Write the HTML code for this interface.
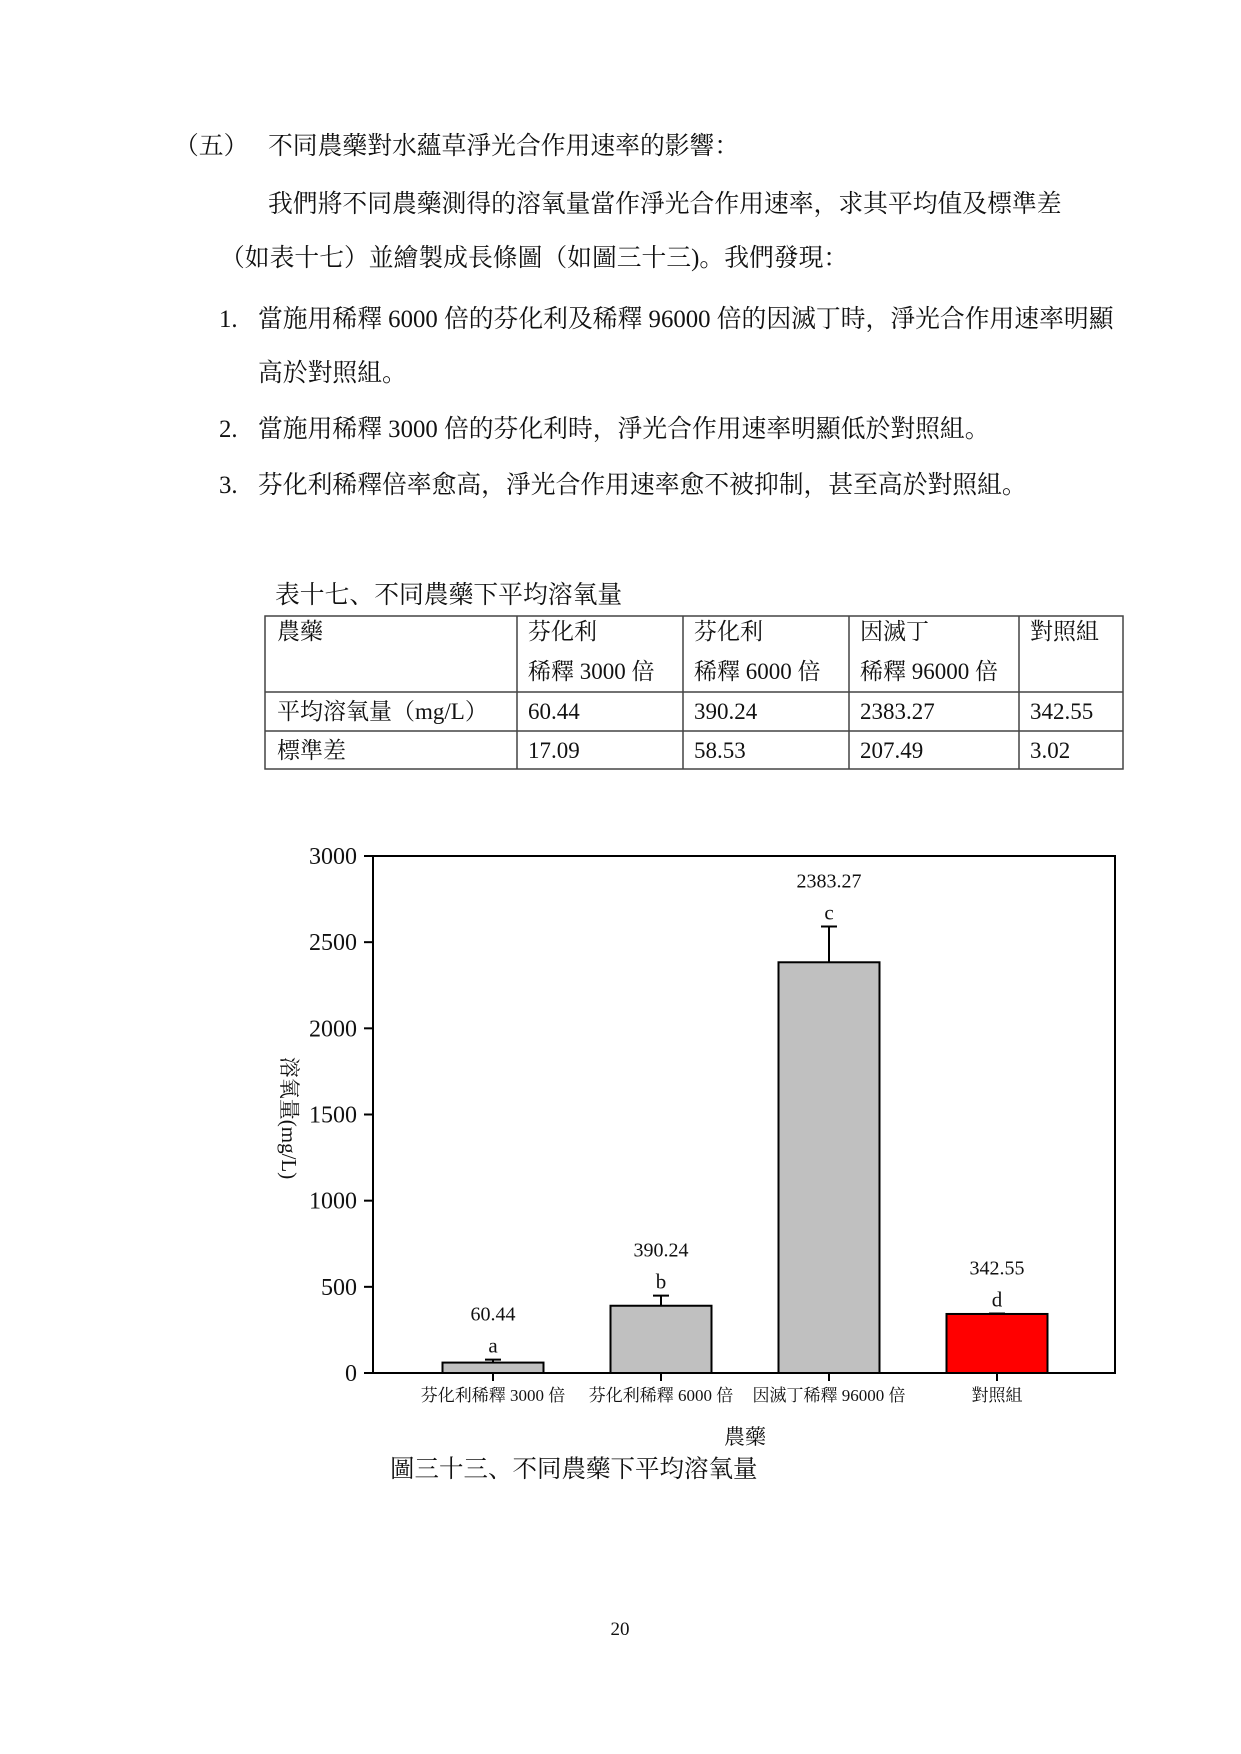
<!DOCTYPE html>
<html><head><meta charset="utf-8">
<style>
body{margin:0;background:#fff;}
#page{position:relative;width:1241px;height:1754px;overflow:hidden;background:#fff;font-family:"Liberation Serif","Noto Serif CJK SC","Noto Sans CJK TC",serif;color:#111;}
.t{position:absolute;font-size:24.8px;white-space:nowrap;line-height:28px;}
.cell{position:absolute;font-size:23px;line-height:28px;white-space:nowrap;}
.hd{line-height:40px;top:612px !important;}
svg text{font-family:"Liberation Serif","Noto Serif CJK SC","Noto Sans CJK TC",serif;fill:#111;}
</style></head>
<body>
<div id="page">
<div class="t" style="left:174px;top:133px">（五）</div>
<div class="t" style="left:268px;top:133px">不同農藥對水蘊草淨光合作用速率的影響：</div>
<div class="t" style="left:268px;top:191px">我們將不同農藥測得的溶氧量當作淨光合作用速率，求其平均值及標準差</div>
<div class="t" style="left:220px;top:245px">（如表十七）並繪製成長條圖（如圖三十三)。我們發現：</div>
<div class="t" style="left:219px;top:306px">1.</div>
<div class="t" style="left:258px;top:306px">當施用稀釋 6000 倍的芬化利及稀釋 96000 倍的因滅丁時，淨光合作用速率明顯</div>
<div class="t" style="left:258px;top:360px">高於對照組。</div>
<div class="t" style="left:219px;top:416px">2.</div>
<div class="t" style="left:258px;top:416px">當施用稀釋 3000 倍的芬化利時，淨光合作用速率明顯低於對照組。</div>
<div class="t" style="left:219px;top:472px">3.</div>
<div class="t" style="left:258px;top:472px">芬化利稀釋倍率愈高，淨光合作用速率愈不被抑制，甚至高於對照組。</div>
<div class="t" style="left:275px;top:582px">表十七、不同農藥下平均溶氧量</div>

<svg style="position:absolute;left:0;top:0" width="1241" height="1754">
<g stroke="#444" stroke-width="1.5" fill="none">
<rect x="265" y="616" width="858" height="153"/>
<line x1="265" y1="692" x2="1123" y2="692"/>
<line x1="265" y1="731" x2="1123" y2="731"/>
<line x1="517" y1="616" x2="517" y2="769"/>
<line x1="683" y1="616" x2="683" y2="769"/>
<line x1="849" y1="616" x2="849" y2="769"/>
<line x1="1019" y1="616" x2="1019" y2="769"/>
</g></svg>
<div class="cell hd" style="left:277px;top:612px">農藥</div>
<div class="cell hd" style="left:528px;top:612px">芬化利<br>稀釋 3000 倍</div>
<div class="cell hd" style="left:694px;top:612px">芬化利<br>稀釋 6000 倍</div>
<div class="cell hd" style="left:860px;top:612px">因滅丁<br>稀釋 96000 倍</div>
<div class="cell hd" style="left:1030px;top:612px">對照組</div>
<div class="cell" style="left:277px;top:698px">平均溶氧量（mg/L）</div>
<div class="cell" style="left:528px;top:698px">60.44</div>
<div class="cell" style="left:694px;top:698px">390.24</div>
<div class="cell" style="left:860px;top:698px">2383.27</div>
<div class="cell" style="left:1030px;top:698px">342.55</div>
<div class="cell" style="left:277px;top:737px">標準差</div>
<div class="cell" style="left:528px;top:737px">17.09</div>
<div class="cell" style="left:694px;top:737px">58.53</div>
<div class="cell" style="left:860px;top:737px">207.49</div>
<div class="cell" style="left:1030px;top:737px">3.02</div>

<svg id="chart" style="position:absolute;left:0;top:0" width="1241" height="1754"></svg>

<div class="t" style="left:390px;top:1456px;font-size:24.5px">圖三十三、不同農藥下平均溶氧量</div>
<div class="t" style="left:600px;top:1616px;font-size:19px;width:40px;text-align:center">20</div>
</div>
<script>
const categories=["芬化利稀釋 3000 倍","芬化利稀釋 6000 倍","因滅丁稀釋 96000 倍","對照組"];
const means=[60.44,390.24,2383.27,342.55];
const sds=[17.09,58.53,207.49,3.02];
const letters=["a","b","c","d"];
const valueLabels=["60.44","390.24","2383.27","342.55"];
const yTicks=[0,500,1000,1500,2000,2500,3000];
const fills=["#c0c0c0","#c0c0c0","#c0c0c0","#ff0000"];

const NS="http://www.w3.org/2000/svg";
const svg=document.getElementById('chart');
const L=373,R=1115,T=856,B=1373,YMAX=3000;
function y(v){return B-v/YMAX*(B-T);}
const step=168, x0=493, bw=101;
function x(i){return x0+i*step;}
function mk(tag,attrs,parent){const e=document.createElementNS(NS,tag);for(const k in attrs)e.setAttribute(k,attrs[k]);(parent||svg).appendChild(e);return e;}

yTicks.forEach(function(t){
  const ln=mk('line',{x1:L-9,x2:L,y1:y(t),y2:y(t),stroke:'#000','stroke-width':2});
  
  
  const tx=mk('text',{x:L-16,y:y(t)+8,'text-anchor':'end','font-size':24});
  tx.textContent=String(t);
  
  
});
categories.forEach(function(c,i){
  const cx=x(i);
  const bar=mk('rect',{x:cx-bw/2,y:y(means[i]),width:bw,height:B-y(means[i]),fill:fills[i],stroke:'#000','stroke-width':2});
  
  
  const top=y(means[i]+sds[i]);
  const eb=mk('path',{d:'M'+cx+' '+y(means[i])+'V'+top+'M'+(cx-8)+' '+top+'H'+(cx+8),stroke:'#000','stroke-width':2,fill:'none'});
  
  
  const lt=mk('text',{x:cx,y:top-7,'text-anchor':'middle','font-size':21});
  lt.textContent=letters[i];
  
  
  const vt=mk('text',{x:cx,y:top-39,'text-anchor':'middle','font-size':20});
  vt.textContent=valueLabels[i];
  
  
  const tk=mk('line',{x1:cx,x2:cx,y1:B,y2:B+8,stroke:'#000','stroke-width':2});
  
  
  const xl=mk('text',{x:cx,y:B+28,'text-anchor':'middle','font-size':17});
  xl.textContent=c;
  
  
});
const frame=mk('rect',{x:L,y:T,width:R-L,height:B-T,fill:'none',stroke:'#000','stroke-width':2});


const xt=mk('text',{x:745,y:1444,'text-anchor':'middle','font-size':21});
xt.textContent='農藥';


const yt=mk('text',{x:0,y:0,'text-anchor':'middle','font-size':21,transform:'translate(282,1118) rotate(90)'});
yt.textContent='溶氧量(mg/L)';


</script>
</body></html>
